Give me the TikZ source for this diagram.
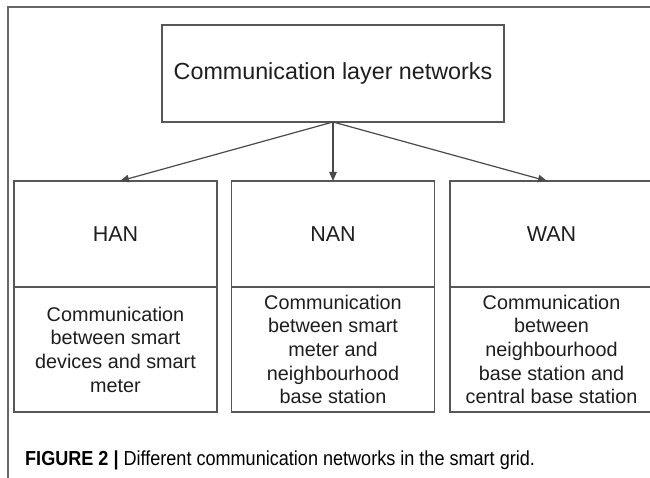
\documentclass[tikz,border=0pt]{standalone}
\usepackage{fontspec}
\setmainfont{Liberation Sans}
\newfontfamily\capfont[FakeStretch=0.89]{Liberation Sans}
\usetikzlibrary{arrows.meta}
\definecolor{boxgray}{HTML}{575757}
\definecolor{framegray}{HTML}{666666}
\definecolor{arrowgray}{HTML}{4A4A4A}
\definecolor{textblack}{HTML}{1E1E1E}
\begin{document}
\begin{tikzpicture}[x=1pt,y=-1pt,
  box/.style={draw=boxgray, line width=1.6pt, inner sep=0pt, outer sep=0pt, text=textblack, align=center},
  topbox/.style={box, minimum width=342pt, minimum height=97pt, font=\fontsize{23.3}{28}\selectfont},
  labelbox/.style={box, minimum width=203pt, minimum height=106pt, font=\fontsize{21.5}{26}\selectfont},
  descbox/.style={box, minimum width=203pt, minimum height=125pt, font=\fontsize{19.8}{23.7}\selectfont},
  conn/.style={draw=arrowgray, line width=1.2pt, -{Triangle[length=9pt,width=7.5pt]}},
  framerule/.style={draw=framegray, line width=1.3pt}
]
\useasboundingbox (0,0) rectangle (650,478);
\fill[white] (0,0) rectangle (650,478);
\draw[framerule] (8,480) -- (8,7) -- (652,7);

\node[topbox] (top) at (333,73.5) {Communication layer networks};

\node[labelbox] (han) at (115.5,234) {HAN};
\node[descbox] (handesc) at (115.5,349.5) {Communication\\between smart\\devices and smart\\meter};

\node[labelbox] (nan) at (333,234) {NAN};
\node[descbox] (nandesc) at (333,349.5) {Communication\\between smart\\meter and\\neighbourhood\\base station};

\node[labelbox] (wan) at (551.5,234) {WAN};
\node[descbox] (wandesc) at (551.5,349.5) {Communication\\between\\neighbourhood\\base station and\\central base station};

\draw[conn] (top.south) -- ([xshift=4.5pt]han.north);
\draw[conn] (top.south) -- (nan.north);
\draw[conn] (top.south) -- ([xshift=-4.5pt]wan.north);

\node[anchor=west, inner sep=0pt, text=black, font=\capfont\fontsize{20.3}{24}\selectfont] (caption) at (25,460) {\textbf{FIGURE 2 |} Different communication networks in the smart grid.};
\end{tikzpicture}
\end{document}
